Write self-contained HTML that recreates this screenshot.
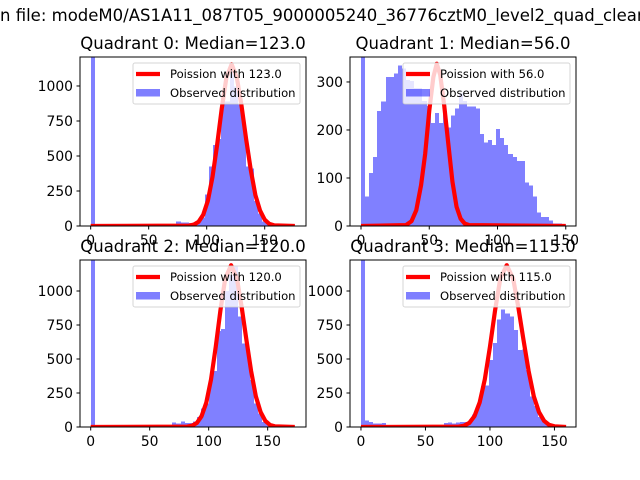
<!DOCTYPE html>
<html><head><meta charset="utf-8"><style>
html,body{margin:0;padding:0;background:#fff;width:640px;height:480px;overflow:hidden}
svg{display:block;font-family:"DejaVu Sans","Liberation Sans",sans-serif}
</style></head><body>
<svg id="chart" width="640" height="480" viewBox="0 0 640 480">
<text x="0" y="21" font-size="16.5" fill="#000">n file: modeM0/AS1A11_087T05_9000005240_36776cztM0_level2_quad_clean.evt</text>
</svg>
<script>
// ---- data ----
const q0Counts=[3000,0,0,0,0,0,0,0,0,0,0,0,0,0,0,0,0,0,0,5,10,33,25,25,20,15,30,60,226,424,578,621,912,888,1138,995,869,733,424,412,179,90,31,19,8,3,0,0,0,0];
const q1Counts=[800,61,110,144,240,259,310,310,318,334,328,304,302,287,287,260,250,215,235,215,240,205,230,245,276,260,249,249,245,192,174,179,169,202,183,169,150,144,135,135,91,84,61,28,19,19,11,5,5,3];
const q2Counts=[3000,0,0,0,0,0,0,0,0,0,0,0,0,0,0,0,0,0,0,0,32,25,42,30,30,40,74,135,172,356,413,705,720,1000,1118,1180,811,614,565,344,172,98,37,20,5,0,0,0,0,0];
const q3Counts=[3000,49,37,27,25,29,3,3,3,3,3,3,3,3,3,3,3,3,3,3,29,32,25,34,37,37,44,93,172,302,307,491,619,791,865,835,811,712,565,570,418,226,155,74,32,10,0,0,0,0];
const binWidths=[3.52,3.0,3.46,3.2];
const q0CurveX=[0,85,89,93,97,101,105,109,113,117,121.5,126,130,134,138,142,146,150,154,158,176];
const q0CurveY=[0,3,10,30,80,180,350,580,840,1060,1155,1060,860,620,400,220,110,45,15,5,0];
const q1CurveX=[0,33,37,40.5,44,47,50,53,55.5,58,61,64,67,70,73,76,79,150];
const q1CurveY=[0,2,10,33,85,150,240,310,338,315,250,170,92,40,15,5,2,0];
const q2CurveX=[0,82,86,90,94,98,102,106,110,114,119,124,128,132,136,140,144,148,152,156,173];
const q2CurveY=[0,3,10,30,80,180,350,590,860,1090,1190,1090,880,640,410,225,110,45,15,5,0];
const q3CurveX=[0,76,80,84,88,92,96,100,104,108,113,118,122,126,130,134,138,142,146,150,159];
const q3CurveY=[0,3,10,30,80,180,350,590,860,1090,1190,1090,880,640,410,225,110,45,15,5,0];
const titles=["Quadrant 0: Median=123.0","Quadrant 1: Median=56.0","Quadrant 2: Median=120.0","Quadrant 3: Median=115.0"];
const medians=["123.0","56.0","120.0","115.0"];
const xTicks=[0,50,100,150];
const yTicksA=[0,250,500,750,1000];
const yTicksB=[0,100,200,300];

// ---- layout ----
const panels=[
 {L:80,R:306,T:57,B:226,xmin:-9.2,xmax:185.6,ymax:1207,counts:q0Counts,cx:q0CurveX,cy:q0CurveY,yt:yTicksA},
 {L:350,R:576,T:57,B:226,xmin:-8.06,xmax:157.5,ymax:352,counts:q1Counts,cx:q1CurveX,cy:q1CurveY,yt:yTicksB},
 {L:80,R:306,T:260,B:427,xmin:-9.07,xmax:182.5,ymax:1228,counts:q2Counts,cx:q2CurveX,cy:q2CurveY,yt:yTicksA},
 {L:350,R:576,T:260,B:427,xmin:-8.5,xmax:166.7,ymax:1228,counts:q3Counts,cx:q3CurveX,cy:q3CurveY,yt:yTicksA}
];
const NS="http://www.w3.org/2000/svg";
const svg=document.getElementById('chart');
function mk(tag,attrs,parent){const e=document.createElementNS(NS,tag);for(const k in attrs)e.setAttribute(k,attrs[k]);(parent||svg).appendChild(e);return e;}
const defs=mk('defs',{});
panels.forEach((p,i)=>{
  const sx=v=>p.L+(v-p.xmin)/(p.xmax-p.xmin)*(p.R-p.L);
  const sy=v=>p.B-v/p.ymax*(p.B-p.T);
  const cp=mk('clipPath',{id:'clip'+i},defs);
  mk('rect',{x:p.L,y:p.T,width:p.R-p.L,height:p.B-p.T},cp);
  const g=mk('g',{});
  
  
  const t=mk('text',{x:(p.L+p.R)/2,y:p.T-8,'text-anchor':'middle','font-size':'16.5'},g);
  t.textContent=titles[i];
  
  
  const bars=mk('g',{'clip-path':'url(#clip'+i+')','shape-rendering':'crispEdges'},g);
  
  
  const w=binWidths[i];
  p.counts.forEach((c,k)=>{
    if(c<=0)return;
    const x0=Math.round(sx(k*w)),x1=Math.round(sx((k+1)*w)),y=sy(c);
    const r=mk('rect',{x:x0,y:y,width:x1-x0,height:p.B-y,fill:'#8080ff'},bars);
    
    
  });
  const pts=p.cx.map((x,j)=>sx(x).toFixed(2)+','+sy(p.cy[j]).toFixed(2)).join(' ');
  const line=mk('polyline',{points:pts,fill:'none',stroke:'#ff0000','stroke-width':'4.2','stroke-linejoin':'round','clip-path':'url(#clip'+i+')'},g);
  
  
  const frame=mk('rect',{x:p.L,y:p.T,width:p.R-p.L,height:p.B-p.T,fill:'none',stroke:'#000','stroke-width':'1'},g);
  
  
  xTicks.forEach(v=>{
    const x=sx(v);
    mk('line',{x1:x,x2:x,y1:p.B,y2:p.B+3.5,stroke:'#000'},g);
    const lt=mk('text',{x:x,y:p.B+19,'text-anchor':'middle','font-size':'13.9'},g);
    lt.textContent=v;
    
    
  });
  p.yt.forEach(v=>{
    const y=sy(v);
    mk('line',{x1:p.L-3.5,x2:p.L,y1:y,y2:y,stroke:'#000'},g);
    const lt=mk('text',{x:p.L-7,y:y+5,'text-anchor':'end','font-size':'13.9'},g);
    lt.textContent=v;
    
    
  });
  // legend
  const lg=mk('g',{},g);
  
  
  const lx=p.R-173,ly=p.T+6;
  mk('rect',{x:lx,y:ly,width:167,height:41,rx:2,fill:'#fff','fill-opacity':'0.8',stroke:'#ccc','stroke-opacity':'0.8'},lg);
  mk('line',{x1:lx+3,x2:lx+27,y1:ly+11,y2:ly+11,stroke:'#ff0000','stroke-width':'4.2'},lg);
  const t1=mk('text',{x:lx+37,y:ly+15,'font-size':'11.6'},lg);
  t1.textContent='Poission with '+medians[i];
  
  
  mk('rect',{x:lx+3,y:ly+26,width:24,height:7.5,fill:'#0000ff','fill-opacity':'0.5'},lg);
  const t2=mk('text',{x:lx+37,y:ly+34,'font-size':'11.6'},lg);
  t2.textContent='Observed distribution';
  
  
});
</script>
</body></html>
